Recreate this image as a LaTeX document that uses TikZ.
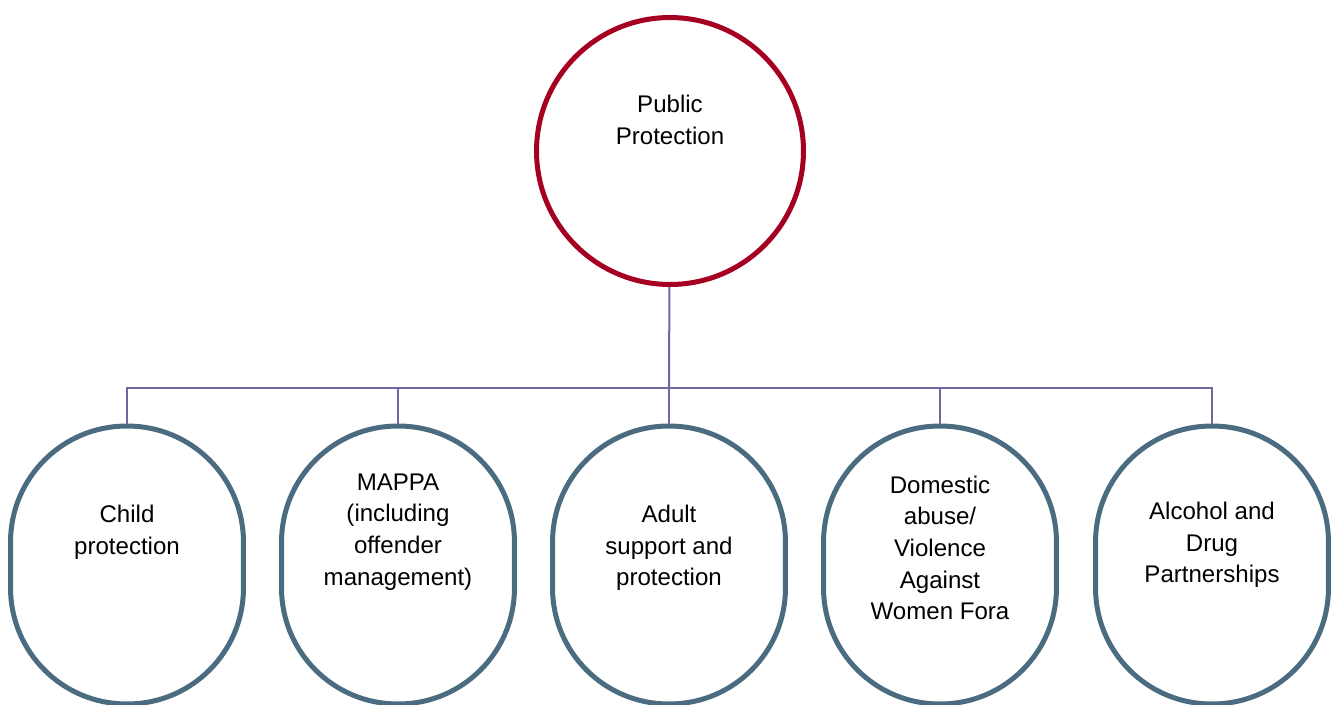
\documentclass[tikz,border=0pt]{standalone}
\usepackage{fontspec}
\setmainfont{Liberation Sans}
\usepackage{tikz}

\definecolor{ppred}{RGB}{165,0,33}
\definecolor{areablue}{RGB}{74,107,128}
\definecolor{linkpurple}{RGB}{108,104,160}

\begin{document}
\begin{tikzpicture}[x=0.02cm, y=-0.02cm,
    every node/.style={font=\fontsize{13.7}{18}\selectfont, align=center},
    area/.style={rectangle, draw=areablue, line width=0.1cm, rounded corners=2.32cm,
                 minimum width=4.66cm, minimum height=5.56cm, inner sep=0pt},
    link/.style={draw=linkpurple, line width=0.04cm}]
    \useasboundingbox (0,0) rectangle (1333,704);

    \node[circle, draw=ppred, line width=0.1cm, minimum size=5.34cm, inner sep=0pt] (pp) at (670,151) {};
    \node at (670,120) {Public\\Protection};

    \node[area] (child) at (127,565) {};
    \node[area] (mappa) at (398,565) {};
    \node[area] (adult) at (669,565) {};
    \node[area] (dom) at (940,565) {};
    \node[area] (adp) at (1212,565) {};

    \node at (127,532) {Child\\protection};
    \node at (398,532) {MAPPA\\(including\\offender\\management)};
    \node at (669,548) {Adult\\support and\\protection};
    \node at (940,548) {Domestic\\abuse/\\Violence\\Against\\Women Fora};
    \node at (1212,545) {Alcohol and\\Drug\\Partnerships};

    \coordinate (bus) at (669,388);

    \draw[link] (pp) -- (bus);
    \draw[link] (child.north) |- (bus);
    \draw[link] (mappa.north) |- (bus);
    \draw[link] (adult) -- (bus);
    \draw[link] (dom.north) |- (bus);
    \draw[link] (adp.north) |- (bus);
\end{tikzpicture}
\end{document}
